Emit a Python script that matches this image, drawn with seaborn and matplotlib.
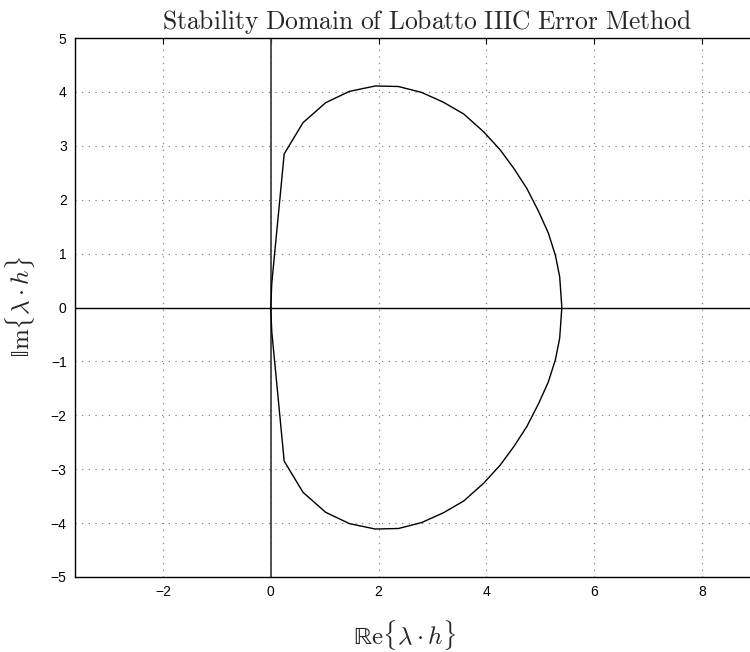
import matplotlib
matplotlib.use("Agg")
import matplotlib.pyplot as plt
import seaborn as sns
import pandas as pd

# Boundary of the stability domain (upper half then lower half, closed)
re_upper = [0.00, 0.02, 0.25, 0.60, 1.02, 1.46, 1.94, 2.37, 2.80, 3.20, 3.58,
            3.95, 4.26, 4.51, 4.75, 4.97, 5.15, 5.28, 5.36, 5.40]
im_upper = [0.00, 0.45, 2.85, 3.43, 3.80, 4.01, 4.11, 4.10, 3.99, 3.81, 3.59,
            3.26, 2.92, 2.58, 2.21, 1.78, 1.38, 0.97, 0.57, 0.00]
re_lower = [5.36, 5.28, 5.15, 4.97, 4.75, 4.51, 4.26, 3.95, 3.58, 3.20, 2.80,
            2.37, 1.94, 1.46, 1.02, 0.60, 0.25, 0.02, 0.00]
im_lower = [-0.57, -0.97, -1.38, -1.78, -2.21, -2.58, -2.92, -3.26, -3.59, -3.81, -3.99,
            -4.10, -4.11, -4.01, -3.80, -3.43, -2.85, -0.45, 0.00]

x_ticks = [-2, 0, 2, 4, 6, 8]
y_ticks = [-5, -4, -3, -2, -1, 0, 1, 2, 3, 4, 5]
x_limits = [-3.63, 8.89]
y_limits = [-5, 5]

title_text = r"$\mathrm{Stability\ Domain\ of\ Lobatto\ IIIC\ Error\ Method}$"
xlabel_text = r"$\mathrm{\mathbb{R}}\mathrm{e}\{\lambda\cdot h\}$"
ylabel_text = r"$\mathrm{\mathbb{I}}\mathrm{m}\{\lambda\cdot h\}$"

df = pd.DataFrame({
    "re": re_upper + re_lower,
    "im": im_upper + im_lower,
    "order": list(range(len(re_upper) + len(re_lower))),
})

sns.set_style("white")
plt.rcParams["font.family"] = ["Liberation Sans", "DejaVu Sans"]
plt.rcParams["mathtext.fontset"] = "cm"

fig = plt.figure(figsize=(7.5, 6.52), dpi=100)
ax = fig.add_axes([75 / 750, (652 - 577) / 652, 675 / 750, 539 / 652])

ax.axvline(0, color="#444444", lw=1.3, zorder=2)
ax.axhline(0, color="black", lw=1.0, zorder=2)

sns.lineplot(data=df, x="re", y="im", sort=False, estimator=None,
             color="black", lw=1.0, ax=ax, zorder=3)

ax.set_xlim(*x_limits)
ax.set_ylim(*y_limits)
ax.set_xticks(x_ticks)
ax.set_yticks(y_ticks)
ax.grid(True, color="#707070", linestyle=(0, (1, 5)), lw=0.8)
ax.tick_params(direction="in", length=4, width=0.8, top=True, right=False,
               labelsize=10, colors="black", pad=6)

for side in ["left", "top", "bottom"]:
    ax.spines[side].set_visible(True)
    ax.spines[side].set_color("black")
    ax.spines[side].set_linewidth(1.0)
ax.spines["right"].set_visible(False)

fig.text(427 / 750, 1 - 29 / 652, title_text, fontsize=18.4,
         ha="center", va="baseline")
ax.set_xlabel(xlabel_text, fontsize=18, va="center")
ax.xaxis.set_label_coords((404 - 75) / 675, (577 - 635) / 539)
ax.set_ylabel(ylabel_text, fontsize=18, va="center")
ax.yaxis.set_label_coords((20 - 75) / 675, 0.5)

fig.savefig("out.png", dpi=100)
